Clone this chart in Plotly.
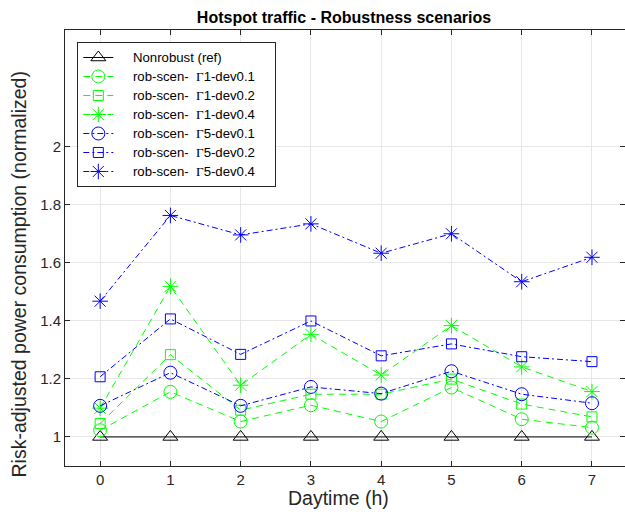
import plotly.graph_objects as go

hours = [0, 1, 2, 3, 4, 5, 6, 7]

nonrobust = [1, 1, 1, 1, 1, 1, 1, 1]
g1_dev01 = [1.023, 1.155, 1.053, 1.109, 1.053, 1.170, 1.061, 1.032]
g1_dev02 = [1.046, 1.283, 1.092, 1.147, 1.147, 1.199, 1.113, 1.069]
g1_dev04 = [1.099, 1.518, 1.178, 1.353, 1.213, 1.383, 1.241, 1.156]
g5_dev01 = [1.107, 1.221, 1.107, 1.172, 1.149, 1.226, 1.147, 1.116]
g5_dev02 = [1.207, 1.406, 1.284, 1.399, 1.279, 1.320, 1.276, 1.259]
g5_dev04 = [1.467, 1.762, 1.695, 1.733, 1.632, 1.699, 1.534, 1.618]

y_ticks = [1, 1.2, 1.4, 1.6, 1.8, 2]
y_tick_labels = ["1", "1.2", "1.4", "1.6", "1.8", "2"]

NB = "\u00a0"
G = "<span style='font-family:Liberation Serif'>Γ</span>"


def leg(t):
    return "<span style='font-size:13.2px'>" + NB * 4 + t + NB * 4 + "</span>"


series = [
    (leg("Nonrobust (ref)"), nonrobust, "black", "solid", "triangle-up-open", 13),
    (leg("rob-scen-  " + G + "1-dev0.1"), g1_dev01, "#00ff00", "7px,5px", "circle-open", 13),
    (leg("rob-scen-  " + G + "1-dev0.2"), g1_dev02, "#00ff00", "7px,5px", "square-open", 10),
    (leg("rob-scen-  " + G + "1-dev0.4"), g1_dev04, "#00ff00", "7px,5px", "asterisk-open", 13),
    (leg("rob-scen-  " + G + "5-dev0.1"), g5_dev01, "#0000ff", "6px,3px,2px,3px", "circle-open", 13),
    (leg("rob-scen-  " + G + "5-dev0.2"), g5_dev02, "#0000ff", "6px,3px,2px,3px", "square-open", 10),
    (leg("rob-scen-  " + G + "5-dev0.4"), g5_dev04, "#0000ff", "6px,3px,2px,3px", "asterisk-open", 13),
]

fig = go.Figure()
for name, vals, col, dash, sym, sz in series:
    fig.add_trace(go.Scatter(
        x=hours, y=vals, name=name, mode="lines+markers",
        line=dict(color=col, width=1, dash=dash),
        marker=dict(symbol=sym, size=sz, color=col, line=dict(color=col, width=1)),
    ))

axis_common = dict(
    showline=True, linecolor="#262626", linewidth=1, mirror="ticks",
    ticks="inside", ticklen=5, tickcolor="#262626",
    showgrid=True, gridcolor="#e6e6e6", gridwidth=1, zeroline=False,
    tickfont=dict(family="Liberation Sans", size=15, color="#262626"),
    automargin=False,
)

fig.update_layout(
    width=625, height=519,
    margin=dict(l=65, r=0, t=30, b=53),
    paper_bgcolor="white", plot_bgcolor="white",
    font=dict(family="Liberation Sans", color="#262626"),
    title=dict(text="<b>Hotspot traffic - Robustness scenarios</b>",
               x=344 / 625, xanchor="center", xref="container",
               y=1 - 17 / 519, yanchor="middle", yref="container",
               font=dict(size=16, color="black", family="Liberation Sans")),
    xaxis=dict(range=[-0.5, 7.47], tickvals=hours, **axis_common),
    yaxis=dict(range=[0.9, 2.4], tickvals=y_ticks, ticktext=y_tick_labels, **axis_common),
    legend=dict(x=0.022, y=0.9725, xanchor="left", yanchor="top",
                bgcolor="white", bordercolor="#262626", borderwidth=1,
                font=dict(size=12, color="black", family="Liberation Sans"),
                tracegroupgap=0, itemwidth=30),
    showlegend=True,
    annotations=[
        dict(text="Daytime (h)", xref="paper", yref="paper", x=(338 - 65) / 560, y=0,
             yshift=-32, xanchor="center", yanchor="middle", showarrow=False,
             font=dict(size=19.5, color="#262626", family="Liberation Sans")),
        dict(text="Risk-adjusted power consumption (normalized)", xref="paper", yref="paper",
             x=0, y=(466 - 274.5) / 436, xshift=-47, textangle=-90, xanchor="center",
             yanchor="middle", showarrow=False,
             font=dict(size=19.5, color="#262626", family="Liberation Sans")),
    ],
)

fig.write_html("out.html", config={"displayModeBar": False},
               post_script="document.body.style.margin='0';document.body.style.overflow='hidden';")
